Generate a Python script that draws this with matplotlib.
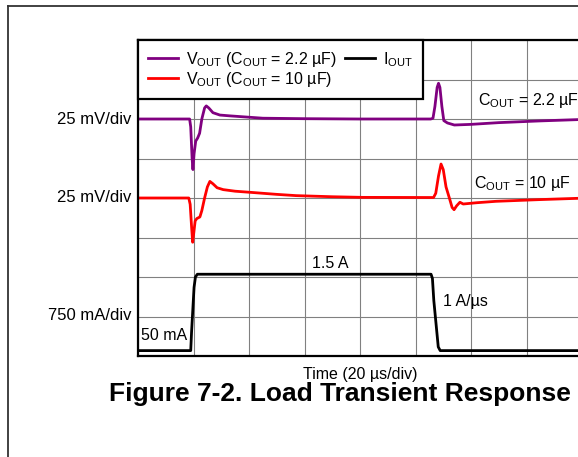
import matplotlib
matplotlib.use("Agg")
import matplotlib.pyplot as plt
from matplotlib.lines import Line2D

plt.rcParams["font.family"] = ["Liberation Sans", "DejaVu Sans"]
plt.rcParams["mathtext.default"] = "regular"

# ---- scope traces (time in µs, voltage deviation in mV, current in A) ----
t_v22 = [0, 18.6, 19.0, 19.5, 19.8, 20.2, 20.8, 21.5, 22.2, 23.0, 24.0, 24.6,
         25.5, 27.0, 29.5, 33, 37, 45, 60, 80, 105.5, 106.3, 107.0, 107.8,
         108.3, 108.8, 109.5, 110.2, 111.5, 114, 120, 130, 145, 160, 200]
v22_mv = [0, 0, -5, -25, -32, -22, -14, -12, -9, 0, 7, 8.3,
          7, 4, 2.5, 2.0, 1.5, 0.5, 0.2, 0, 0, 0.5, 8, 20,
          22.6, 20, 8, -1.0, -2.5, -3.8, -3.4, -2.3, -1.2, -0.3, 0]

t_v10 = [0, 18.3, 18.8, 19.3, 19.7, 20.1, 20.6, 21.2, 22.3, 23.0, 24.0, 25.0,
         25.9, 27.0, 28.5, 30.7, 35, 40.4, 50, 57, 70, 81, 106.5, 107.3,
         108.3, 109.2, 110.0, 111.0, 112.2, 113.2, 113.9, 114.8, 116, 117.2,
         122, 129, 145, 158.6, 200]
v10_mv = [0, 0, -4, -18, -28, -22, -14.5, -13.0, -12.0, -8, 0, 7,
          10.5, 9, 6.5, 5.3, 4.3, 3.6, 2.3, 1.5, 0.8, 0.4, 0.3, 3,
          14, 21.5, 18, 7, 0, -6, -7.4, -5, -2.7, -3.8,
          -3.0, -2.1, -1.0, -0.2, 0]

t_iout = [0, 19.0, 19.3, 20.2, 20.7, 21.4, 105.6, 106.1, 106.6, 108.2, 108.9, 200]
iout_a = [0.05, 0.05, 0.4, 1.25, 1.45, 1.5, 1.5, 1.42, 1.0, 0.12, 0.05, 0.05]

# channel scales and screen positions (in divisions)
V_SCALE_MV = 25.0
I_SCALE_A = 0.75
V22_POS = 6.0
V10_POS = 4.0
I_POS = 0.07

time_per_div = 20
n_xdiv, n_ydiv = 10, 8

W, H = 578, 457
fig = plt.figure(figsize=(W / 100, H / 100), dpi=100)


def fx(px):
    return px / W


def fy(py):
    return 1 - py / H


# outer page frame
fig.add_artist(Line2D([fx(8), fx(8)], [fy(5.5), 0], color="#333333", lw=1.3))
fig.add_artist(Line2D([fx(8), 1], [fy(5.5), fy(5.5)], color="#333333", lw=1.3))

ax = fig.add_axes([fx(138), fy(356), 555 / W, 316 / H])
ax.set_xlim(0, n_xdiv * time_per_div)
ax.set_ylim(0, n_ydiv)
ax.set_xticks(range(0, n_xdiv * time_per_div + 1, time_per_div))
ax.set_yticks(range(0, n_ydiv + 1))
ax.tick_params(length=0, labelbottom=False, labelleft=False)
ax.grid(True, color="#808080", lw=0.8)
ax.set_axisbelow(True)
for s in ax.spines.values():
    s.set_linewidth(1.6)
    s.set_color("black")

y22 = [V22_POS + v / V_SCALE_MV for v in v22_mv]
y10 = [V10_POS + v / V_SCALE_MV for v in v10_mv]
yi = [I_POS + i / I_SCALE_A for i in iout_a]

l1, = ax.plot(t_v22, y22, color="#800080", lw=2.0, solid_joinstyle="round")
l2, = ax.plot(t_v10, y10, color="#ff0000", lw=2.0, solid_joinstyle="round")
l3, = ax.plot(t_iout, yi, color="black", lw=2.0, solid_joinstyle="round")

leg = ax.legend([l1, l2, l3],
                ["V$_{OUT}$ (C$_{OUT}$ = 2.2 µF)", "V$_{OUT}$ (C$_{OUT}$ = 10 µF)",
                 "I$_{OUT}$"],
                ncol=2, loc="upper left", borderaxespad=0, fontsize=11.5,
                fancybox=False, framealpha=1, edgecolor="black",
                handlelength=1.9, handletextpad=0.5, columnspacing=0.5,
                labelspacing=0.05, borderpad=0.62)
leg.get_frame().set_linewidth(1.6)

# in-plot annotations
FS = 11.5
ax.text(122.5, 6.46, "C$_{OUT}$ = 2.2 µF", fontsize=FS, va="center")
ax.text(121.1, 4.37, "C$_{OUT}$ = 10 µF", fontsize=FS, va="center")
ax.text(69.2, 2.33, "1.5 A", fontsize=FS, ha="center", va="center")
ax.text(109.9, 1.37, "1 A/µs", fontsize=FS, va="center")
ax.text(1.0, 0.51, "50 mA", fontsize=FS, va="center")

# channel scale labels
for ypx, lab in [(120, "25 mV/div"), (198, "25 mV/div"), (316, "750 mA/div")]:
    fig.text(fx(131), fy(ypx), lab, fontsize=12, ha="right", va="center")

fig.text(fx(360), fy(374), "Time (20 µs/div)", fontsize=FS, ha="center", va="center")
fig.text(fx(340), fy(394), "Figure 7-2. Load Transient Response", fontsize=19,
         weight="bold", ha="center", va="center")

fig.savefig("out.png", dpi=100)
